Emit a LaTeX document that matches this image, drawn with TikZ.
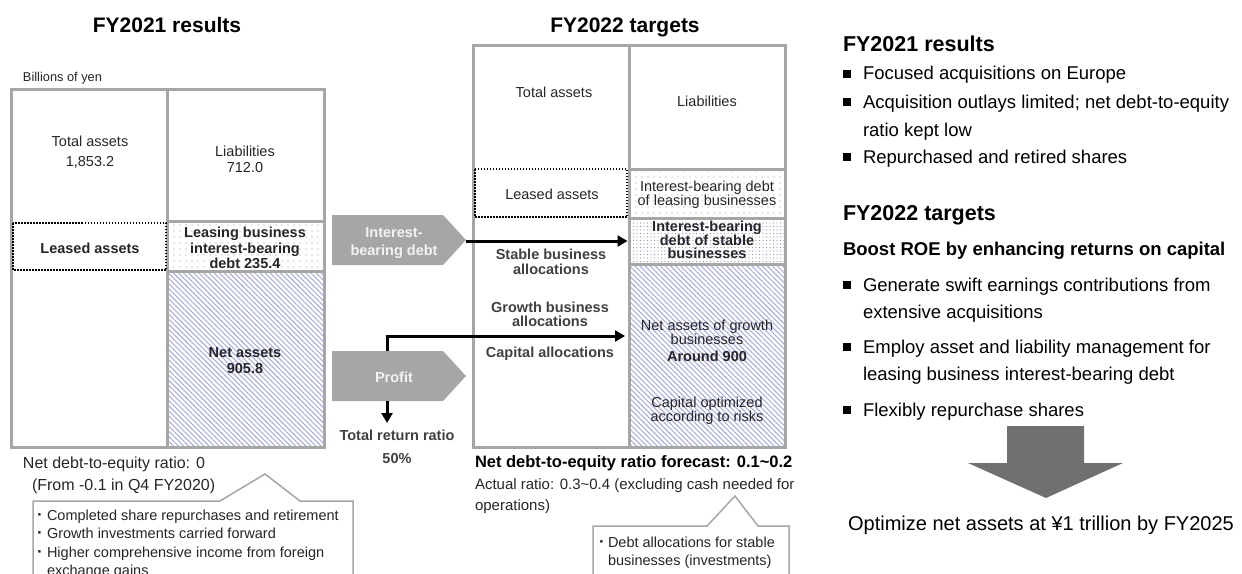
\documentclass[tikz,border=0pt]{standalone}
\usepackage{fontspec}
\setmainfont{Liberation Sans}
\usetikzlibrary{patterns.meta,arrows.meta}
\definecolor{bord}{HTML}{A6A6A6}
\definecolor{penta}{HTML}{A6A6A6}
\definecolor{hatchc}{HTML}{A9AEE6}
\definecolor{dotc}{HTML}{8F8FD6}
\definecolor{celltxt}{HTML}{262626}
\definecolor{darktxt}{HTML}{404040}
\definecolor{bigarrow}{HTML}{707070}
\definecolor{pentatxt}{HTML}{F2F2F2}
\newcommand\myfs[1]{\fontsize{#1}{#1}\selectfont}
\tikzset{
  t/.style={inner sep=0pt, outer sep=0pt, anchor=base},
  tw/.style={t, anchor=base west},
  cellt/.style={t, font=\myfs{14.5}, text=celltxt},
  cellb/.style={t, font=\myfs{14.5}\bfseries, text=celltxt},
  grayb/.style={t, font=\myfs{14.5}\bfseries, text=darktxt},
  titlet/.style={t, font=\myfs{21}\bfseries, text=black},
  gridl/.style={draw=bord, line width=3pt},
  hatchf/.style={pattern={Lines[angle=-45,distance=3.6pt,line width=1.1pt]}, pattern color=hatchc},
  dotsp/.style={pattern={Dots[distance=6pt,radius=0.65pt]}, pattern color=dotc},
  dotsd/.style={pattern={Dots[distance=3.5pt,radius=0.6pt]}, pattern color=dotc},
  leasebox/.style={draw=black, line width=1.5pt, dash pattern=on 1.5pt off 1.5pt},
  pent/.style={fill=penta, draw=none},
  pentt/.style={t, font=\myfs{14.5}\bfseries, text=pentatxt},
  conn/.style={draw=black, line width=3pt, -{Triangle[length=10pt,width=11pt]}},
  callout/.style={draw=bord, line width=1.5pt, fill=white},
  callt/.style={tw, font=\myfs{14.5}, text=celltxt},
  callbul/.style={tw, font=\myfs{17}\bfseries, text=celltxt},
  rtxt/.style={tw, font=\myfs{18.5}, text=black},
  rhead/.style={tw, font=\myfs{21.5}\bfseries, text=black},
  sq/.style={fill=black, inner sep=0pt, outer sep=0pt, minimum size=8pt},
}
\begin{document}
\begin{tikzpicture}[x=1pt,y=-1pt]
\useasboundingbox (0,0) rectangle (1242,573);

% ---------- titles ----------
\node[titlet] (title21) at (167,32) {FY2021 results};
\node[titlet] (title22) at (625,32) {FY2022 targets};
\node[tw, font=\myfs{12.8}, text=celltxt] (unit) at (23,81) {Billions of yen};

% ---------- FY2021 table ----------
\path[gridl, dotsp] (167,221) rectangle (324,271);
\path[gridl, hatchf] (167,271) rectangle (324,447);
\path[gridl] (167,89) rectangle (324,221);
\path[gridl] (11,89) rectangle (167,447);
\path[leasebox] (13,223) rectangle (166,270);

\node[cellt] (ta21a) at (90,146) {Total assets};
\node[cellt] (ta21b) at (90,166) {1,853.2};
\node[cellt] (li21a) at (245,156) {Liabilities};
\node[cellt] (li21b) at (245,172) {712.0};
\node[cellb] (la21) at (90,253) {Leased assets};
\node[cellb] (ld21a) at (245,237) {Leasing business};
\node[cellb] (ld21b) at (245,253) {interest-bearing};
\node[cellb] (ld21c) at (245,268) {debt 235.4};
\node[cellb] (na21a) at (245,357) {Net assets};
\node[cellb] (na21b) at (245,373) {905.8};

% ---------- FY2022 table ----------
\path[gridl] (473,45) rectangle (629,447);
\path[gridl] (629,45) rectangle (785,169);
\path[gridl, dotsp] (629,169) rectangle (785,218);
\node[gridl, dotsd, minimum width=156pt, minimum height=46pt, inner sep=0pt] (stable22) at (707,241) {};
\path[gridl, hatchf] (629,264) rectangle (785,447);
\path[leasebox] (475,169) rectangle (627,217);

\node[cellt] (ta22) at (554,97) {Total assets};
\node[cellt] (li22) at (707,106) {Liabilities};
\node[cellt] (la22) at (552,199) {Leased assets};
\node[cellt] (ld22a) at (707,191) {Interest-bearing debt};
\node[cellt] (ld22b) at (707,205) {of leasing businesses};
\node[cellb] (sd22a) at (707,231) {Interest-bearing};
\node[cellb] (sd22b) at (707,245) {debt of stable};
\node[cellb] (sd22c) at (707,258) {businesses};
\node[grayb] (sa22a) at (551,259) {Stable business};
\node[grayb] (sa22b) at (551,274) {allocations};
\node[grayb] (ga22a) at (550,312) {Growth business};
\node[grayb] (ga22b) at (550,326) {allocations};
\node[grayb] (ca22) at (550,357) {Capital allocations};
\node[cellt] (ng22a) at (707,330) {Net assets of growth};
\node[cellt] (ng22b) at (707,344) {businesses};
\node[cellb] (ng22c) at (707,361) {Around 900};
\node[cellt] (co22a) at (707,407) {Capital optimized};
\node[cellt] (co22b) at (707,421) {according to risks};

% ---------- pentagons ----------
\path[pent] (332,215) -- (443,215) -- (466,240) -- (443,265) -- (332,265) -- cycle;
\coordinate (ibdtip) at (466,241);
\node[pentt] (ibda) at (394,237) {Interest-};
\node[pentt] (ibdb) at (394,255) {bearing debt};
\path[pent] (332,351) -- (443,351) -- (466,376) -- (443,401) -- (332,401) -- cycle;
\coordinate (proftop) at (387,351);
\coordinate (profbot) at (387,401);
\node[pentt] (prof) at (394,382) {Profit};

% ---------- connectors ----------
\coordinate (growthend) at (625,336);
\coordinate (retend) at (387,423);
\draw[conn] (ibdtip) -- (stable22.west);
\draw[conn] (proftop) |- (growthend);
\draw[conn] (profbot) -- (retend);
\node[t, font=\myfs{14.5}\bfseries, text=darktxt] (trr) at (397,440) {Total return ratio};
\node[t, font=\myfs{14.5}\bfseries, text=darktxt] (trr50) at (397,463) {50\%};

% ---------- lower left notes ----------
\node[tw, font=\myfs{16}, text=celltxt] (nde21) at (23,468) {Net debt-to-equity ratio: 0};
\node[tw, font=\myfs{16}, text=celltxt] (nde21b) at (32,490) {(From -0.1 in Q4 FY2020)};
\path[callout] (33,610) -- (33,501) -- (220,501) -- (265,474) -- (300,501) -- (353,501) -- (353,610);
\node[callbul] (c1b1) at (37,520) {·};
\node[callt] (c1l1) at (47,520) {Completed share repurchases and retirement};
\node[callbul] (c1b2) at (37,538) {·};
\node[callt] (c1l2) at (47,538) {Growth investments carried forward};
\node[callbul] (c1b3) at (37,557) {·};
\node[callt] (c1l3) at (47,557) {Higher comprehensive income from foreign};
\node[callt] (c1l4) at (47,575) {exchange gains};

% ---------- lower middle notes ----------
\node[tw, font=\myfs{16.5}\bfseries, text=black] (nde22) at (475,467) {Net debt-to-equity ratio forecast: 0.1\textasciitilde0.2};
\node[tw, font=\myfs{15}, text=celltxt] (act22a) at (475,489) {Actual ratio: 0.3\textasciitilde0.4 (excluding cash needed for};
\node[tw, font=\myfs{15}, text=celltxt] (act22b) at (475,510) {operations)};
\path[callout] (593,610) -- (593,526) -- (707,526) -- (735,496) -- (758,526) -- (789,526) -- (789,610);
\node[callbul] (c2b1) at (599,547) {·};
\node[callt] (c2l1) at (608,547) {Debt allocations for stable};
\node[callt] (c2l2) at (608,565) {businesses (investments)};

% ---------- right column ----------
\node[rhead] (rh1) at (843,51) {FY2021 results};
\node[sq] (sq1) at (847,73.5) {};
\node[rtxt] (r1) at (863,79.5) {Focused acquisitions on Europe};
\node[sq] (sq2) at (847,102) {};
\node[rtxt] (r2a) at (863,108) {Acquisition outlays limited; net debt-to-equity};
\node[rtxt] (r2b) at (863,136) {ratio kept low};
\node[sq] (sq3) at (847,157) {};
\node[rtxt] (r3) at (863,163) {Repurchased and retired shares};
\node[rhead] (rh2) at (843,220) {FY2022 targets};
\node[tw, font=\myfs{18.5}\bfseries, text=black] (rh3) at (843,255) {Boost ROE by enhancing returns on capital};
\node[sq] (sq4) at (847,285) {};
\node[rtxt] (r4a) at (863,291) {Generate swift earnings contributions from};
\node[rtxt] (r4b) at (863,318) {extensive acquisitions};
\node[sq] (sq5) at (847,347) {};
\node[rtxt] (r5a) at (863,353) {Employ asset and liability management for};
\node[rtxt] (r5b) at (863,380) {leasing business interest-bearing debt};
\node[sq] (sq6) at (847,410) {};
\node[rtxt] (r6) at (863,416) {Flexibly repurchase shares};
\path[fill=bigarrow] (1007,426) -- (1084,426) -- (1084,463) -- (1123,463) -- (1046,498) -- (968,463) -- (1007,463) -- cycle;
\node[t, font=\myfs{20}, text=black] (goal) at (1041,530) {Optimize net assets at ¥1 trillion by FY2025};
\end{tikzpicture}
\end{document}
